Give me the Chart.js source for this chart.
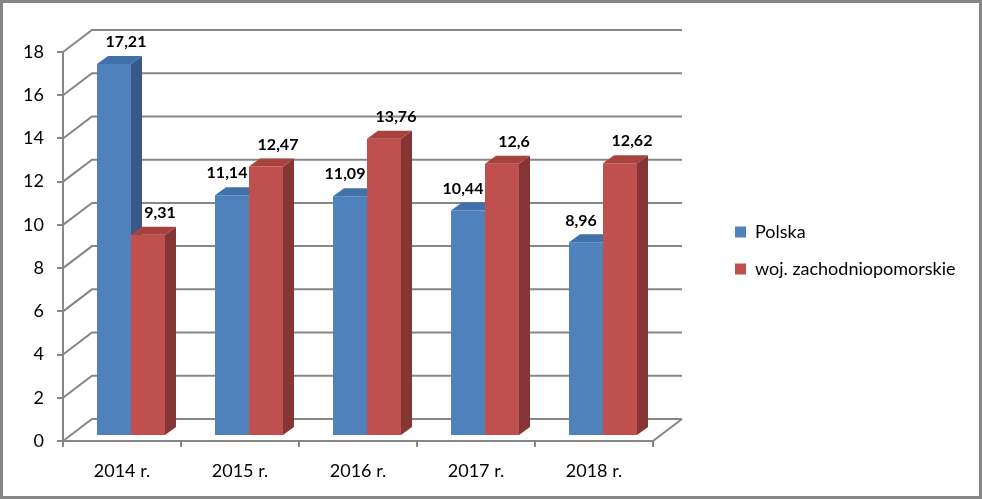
<!DOCTYPE html>
<html><head><meta charset="utf-8">
<script src="https://cdn.jsdelivr.net/npm/chart.js@4/dist/chart.umd.min.js"></script>
<style>html,body{margin:0;padding:0;background:#fff}#wrap{width:982px;height:499px}</style>
</head><body><div id="wrap"><canvas id="c" width="982" height="499"></canvas></div>
<script>
const categories = ['2014 r.', '2015 r.', '2016 r.', '2017 r.', '2018 r.'];
const polska = [17.21, 11.14, 11.09, 10.44, 8.96];
const zachodniopomorskie = [9.31, 12.47, 13.76, 12.6, 12.62];
const seriesNames = ['Polska', 'woj. zachodniopomorskie'];
const yMin = 0, yMax = 18, yStep = 2;

const GRID = '#868686';
const DEPTH = {dx: 29, dy: 22};
const BAR_SHIFT = {dx: 9, dy: -5};
const FACE = {dx: 11, dy: 8};
const faceColors = [{top: '#4270A9', side: '#36598A'}, {top: '#A8423F', side: '#853533'}];

Chart.defaults.font.family = 'Lato';

const threeD = {
  id: 'threeD',
  beforeDraw(chart) {
    const ctx = chart.ctx;
    ctx.save(); ctx.fillStyle = '#fff'; ctx.fillRect(0, 0, chart.width, chart.height); ctx.restore();
  },
  afterLayout(chart) {
    const lg = chart.legend;
    const w = lg.width, h = lg.height;
    lg.left = 716; lg.right = 716 + w; lg.top = 204; lg.bottom = 204 + h + 40;
  },
  beforeDatasetsDraw(chart) {
    const {ctx, chartArea: a, scales: {y}} = chart;
    ctx.save();
    ctx.strokeStyle = GRID; ctx.lineWidth = 2; ctx.lineJoin = 'miter';
    y.ticks.forEach(t => {
      const p = y.getPixelForValue(t.value);
      ctx.beginPath();
      ctx.moveTo(a.left, p);
      ctx.lineTo(a.left + DEPTH.dx, p - DEPTH.dy);
      ctx.lineTo(a.right + DEPTH.dx, p - DEPTH.dy);
      ctx.stroke();
    });
    const p0 = y.getPixelForValue(0);
    ctx.beginPath(); ctx.moveTo(a.right, p0); ctx.lineTo(a.right + DEPTH.dx, p0 - DEPTH.dy); ctx.stroke();
    ctx.restore();
  },
  beforeDatasetDraw() { return false; },
  afterDatasetsDraw(chart) {
    const ctx = chart.ctx;
    ctx.save();
    ctx.translate(BAR_SHIFT.dx, BAR_SHIFT.dy);
    const n = chart.data.datasets.length;
    for (let i = 0; i < n; i++) {
      const meta = chart.getDatasetMeta(i);
      meta.controller.draw();
      meta.data.forEach(bar => {
        const {x, y, base, width} = bar.getProps(['x', 'y', 'base', 'width'], true);
        const l = x - width / 2, r = x + width / 2;
        ctx.fillStyle = faceColors[i].side;
        ctx.beginPath();
        ctx.moveTo(r, y); ctx.lineTo(r + FACE.dx, y - FACE.dy);
        ctx.lineTo(r + FACE.dx, base - FACE.dy); ctx.lineTo(r, base);
        ctx.closePath(); ctx.fill();
        ctx.fillStyle = faceColors[i].top;
        ctx.beginPath();
        ctx.moveTo(l, y); ctx.lineTo(l + FACE.dx, y - FACE.dy);
        ctx.lineTo(r + FACE.dx, y - FACE.dy); ctx.lineTo(r, y);
        ctx.closePath(); ctx.fill();
      });
    }
    ctx.fillStyle = '#000';
    ctx.font = 'bold 16px Lato';
    ctx.textAlign = 'center'; ctx.textBaseline = 'middle';
    for (let i = 0; i < n; i++) {
      const meta = chart.getDatasetMeta(i);
      const vals = chart.data.datasets[i].data;
      meta.data.forEach((bar, j) => {
        const {x, y} = bar.getProps(['x', 'y'], true);
        let off = 12;
        // label of a bar hidden behind a taller neighbour is pushed to the left
        if (i < n - 1 && chart.data.datasets[i + 1].data[j] > vals[j]) off = -5;
        ctx.fillText(String(vals[j]).replace('.', ','), x + off, y - 22);
      });
    }
    ctx.restore();
  },
  afterDraw(chart) {
    const ctx = chart.ctx;
    ctx.save(); ctx.strokeStyle = GRID; ctx.lineWidth = 3;
    ctx.strokeRect(1.5, 1.5, chart.width - 3, chart.height - 3);
    ctx.restore();
  }
};

new Chart(document.getElementById('c'), {
  type: 'bar',
  data: {
    labels: categories,
    datasets: [
      {label: seriesNames[0], data: polska, backgroundColor: '#4F81BD', borderWidth: 0},
      {label: seriesNames[1], data: zachodniopomorskie, backgroundColor: '#C0504D', borderWidth: 0}
    ]
  },
  options: {
    responsive: false,
    animation: false,
    devicePixelRatio: 1,
    categoryPercentage: 68 / 118,
    barPercentage: 1,
    layout: {padding: {top: 52, left: 0, right: 329, bottom: 0}},
    plugins: {
      tooltip: {enabled: false},
      legend: {
        position: 'chartArea',
        align: 'start',
        labels: {
          boxWidth: 11, boxHeight: 11, padding: 19, color: '#000',
          font: {size: 18},
          sort: (a, b) => a.datasetIndex - b.datasetIndex
        }
      }
    },
    scales: {
      x: {
        grid: {offset: true, drawOnChartArea: false, drawTicks: true, tickLength: 6, color: GRID, lineWidth: 2},
        border: {display: true, color: GRID, width: 2},
        ticks: {color: '#000', font: {size: 18}, padding: 13},
        afterFit(s) { s.height = 58; }
      },
      y: {
        min: yMin, max: yMax,
        grid: {drawOnChartArea: false, drawTicks: true, tickLength: 6, color: GRID, lineWidth: 2},
        border: {display: true, color: GRID, width: 2},
        ticks: {stepSize: yStep, color: '#000', font: {size: 18}, padding: 13},
        afterFit(s) { s.width = 63; }
      }
    }
  },
  plugins: [threeD]
});
</script>
</body></html>
